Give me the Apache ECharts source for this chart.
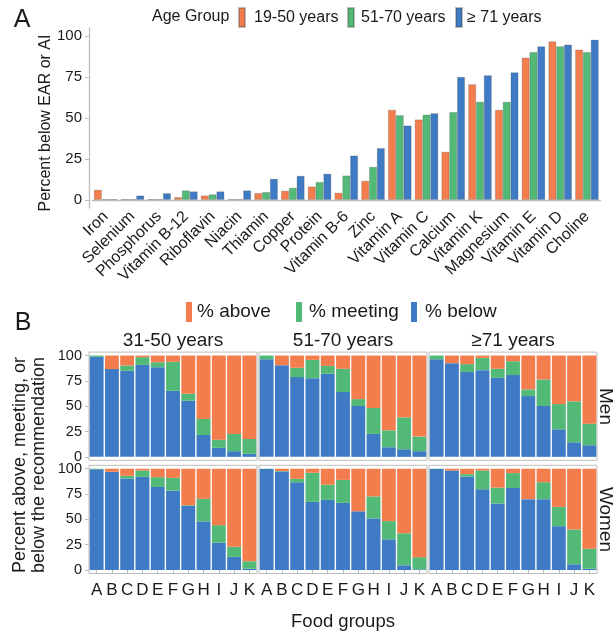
<!DOCTYPE html>
<html><head><meta charset="utf-8">
<script src="https://cdn.jsdelivr.net/npm/echarts@6/dist/echarts.min.js"></script>
<style>html,body{margin:0;padding:0;background:#fff}#c{width:614px;height:633px}</style>
</head><body><div id="c"></div>
<script>
// ---------- Panel A data ----------
const nutrients = ['Iron','Selenium','Phosphorus','Vitamin B-12','Riboflavin','Niacin','Thiamin','Copper','Protein','Vitamin B-6','Zinc','Vitamin A','Vitamin C','Calcium','Vitamin K','Magnesium','Vitamin E','Vitamin D','Choline'];
const ageGroups = ['19-50 years','51-70 years','\u2265 71 years'];
const age19_50 = [6.1,0.3,0.3,1.6,2.6,0.3,4.1,5.5,8.1,4.3,11.6,54.9,49.0,29.3,70.5,54.9,86.8,96.7,91.7];
const age51_70 = [0.3,0.3,0.3,5.7,3.3,0.3,4.7,7.3,10.8,14.8,20.1,51.6,52.0,53.5,59.8,59.8,90.2,93.7,90.2];
const age71plus = [0.3,2.6,4.0,5.1,5.1,5.7,12.8,14.6,15.9,27.0,31.5,45.3,52.8,75.0,76.0,77.8,93.7,94.7,97.7];
const tickValues = [0,25,50,75,100];

// ---------- Panel B data ----------
const foodGroups = ['A','B','C','D','E','F','G','H','I','J','K'];
const facetAges = ['31-50 years','51-70 years','\u226571 years'];
const sexes = ['Men','Women'];
const statusNames = ['% below','% meeting','% above'];

const men31_50_below   = [98.7,86.6,84.9,90.8,88.5,65.2,55.4,21.6,8.9,5.6,3.0];
const men31_50_meeting = [1.3,0,5.3,7.6,4.9,28.6,6.9,15.8,8.1,17.0,14.7];
const men31_50_above   = [0,13.4,9.8,1.6,6.6,6.2,37.7,62.6,83.0,77.4,82.3];

const men51_70_below   = [96.4,90.5,78.7,77.7,82.0,63.9,50.2,22.6,9.5,7.5,5.6];
const men51_70_meeting = [3.6,0,9.2,18.0,7.8,23.0,6.8,25.6,16.7,31.5,14.4];
const men51_70_above   = [0,9.5,12.1,4.3,10.2,13.1,43.0,51.8,73.8,61.0,80.0];

const men71_below   = [96.4,92.5,83.9,85.6,78.0,80.7,60.0,50.2,27.2,14.4,11.5];
const men71_meeting = [3.6,0,7.6,12.1,8.9,13.7,6.6,26.2,24.9,40.4,21.3];
const men71_above   = [0,7.5,8.5,2.3,13.1,5.6,33.4,23.6,47.9,45.2,67.2];

const women31_50_below   = [99.5,97.0,90.3,92.0,82.0,78.3,63.3,48.0,27.0,13.0,1.3];
const women31_50_meeting = [0.5,0,2.7,6.3,9.7,12.7,0.7,22.3,17.3,10.0,7.4];
const women31_50_above   = [0,3.0,7.0,1.7,8.3,9.0,36.0,29.7,55.7,77.0,91.3];

const women51_70_below   = [99.7,97.3,86.7,67.3,69.3,66.3,58.0,51.0,30.3,4.7,0.7];
const women51_70_meeting = [0.3,0.5,3.3,28.7,15.0,22.7,0,21.7,18.0,31.6,12.0];
const women51_70_above   = [0,2.2,10.0,4.0,15.7,11.0,42.0,27.3,51.7,63.7,87.3];

const women71_below   = [99.7,98.3,92.3,79.7,65.7,81.0,70.0,70.0,43.3,5.7,1.3];
const women71_meeting = [0.3,0,2.4,18.6,15.6,14.7,0,16.7,19.0,34.3,19.7];
const women71_above   = [0,1.7,5.3,1.7,18.7,4.3,30.0,13.3,37.7,60.0,79.0];

const facetData = [
  [[men31_50_below,men31_50_meeting,men31_50_above],[men51_70_below,men51_70_meeting,men51_70_above],[men71_below,men71_meeting,men71_above]],
  [[women31_50_below,women31_50_meeting,women31_50_above],[women51_70_below,women51_70_meeting,women51_70_above],[women71_below,women71_meeting,women71_above]]
];

// ---------- styling ----------
const ORANGE = '#F47D4D', GREEN = '#52BA76', BLUE = '#3E7BC4';
const statusColors = [BLUE, GREEN, ORANGE];
const FONT = 'Liberation Sans, Arial, Helvetica, sans-serif';
const TXT = '#1a1a1a';
const AXC = '#bdbdbd';

const grids = [], xAxes = [], yAxes = [], series = [];

// Panel A
grids.push({left: 92.3, right: 13.7, top: 27.8, bottom: 425, containLabel: false});
xAxes.push({
  type: 'category', gridIndex: 0, data: nutrients,
  axisLine: {lineStyle: {color: AXC, width: 1.3}},
  axisTick: {alignWithLabel: true, length: 4, lineStyle: {color: AXC}},
  axisLabel: {rotate: 45, fontSize: 16, color: TXT, margin: 6, interval: 0, fontFamily: FONT}
});
yAxes.push({
  type: 'value', gridIndex: 0, min: -5, max: 105, offset: 3.3,
  splitLine: {show: false},
  axisLine: {show: true, lineStyle: {color: AXC, width: 1.3}},
  axisTick: {show: true, length: 4, customValues: tickValues, lineStyle: {color: AXC}},
  axisLabel: {customValues: tickValues, fontSize: 15, color: TXT, margin: 7, fontFamily: FONT}
});
const aSeries = [age19_50, age51_70, age71plus];
const aColors = [ORANGE, GREEN, BLUE];
aSeries.forEach((d, i) => {
  series.push({
    type: 'bar', name: ageGroups[i], xAxisIndex: 0, yAxisIndex: 0, data: d,
    barWidth: 7.8, barGap: '0%',
    itemStyle: {color: aColors[i], borderColor: 'rgba(70,70,70,0.35)', borderWidth: 0.7}
  });
});

// Panel B facets
const colLeft = [89, 259, 429];
const rowTop = [352.1, 465.3];
sexes.forEach((sex, r) => {
  facetAges.forEach((age, c) => {
    const idx = 1 + r * 3 + c;
    grids.push({left: colLeft[c], width: 168, top: rowTop[r], height: 108.2,
      show: true, borderColor: AXC, borderWidth: 1, backgroundColor: '#fff'});
    const bottomRow = r === 1;
    xAxes.push({
      type: 'category', gridIndex: idx, data: foodGroups,
      axisLine: {show: false},
      axisTick: {show: bottomRow, alignWithLabel: true, length: 4, lineStyle: {color: AXC}},
      axisLabel: {show: bottomRow, interval: 0, fontSize: 17, color: TXT, margin: 8, fontFamily: FONT}
    });
    const firstCol = c === 0;
    yAxes.push({
      type: 'value', gridIndex: idx, min: -3.4, max: 103.4,
      splitLine: {show: false},
      axisLine: {show: false},
      axisTick: {show: firstCol, length: 4, customValues: tickValues, lineStyle: {color: AXC}},
      axisLabel: {show: firstCol, customValues: tickValues, fontSize: 14.5, color: TXT, margin: 7, fontFamily: FONT}
    });
    facetData[r][c].forEach((d, s) => {
      series.push({
        type: 'bar', name: statusNames[s], xAxisIndex: idx, yAxisIndex: idx,
        stack: 'f' + idx, data: d, barCategoryGap: '9%',
        itemStyle: {color: statusColors[s]}
      });
    });
  });
});

function legendItem(name, left, top, w, h, fs, pad) {
  return {data: [name], left: left, top: top, padding: 0, itemGap: 0, itemWidth: w, itemHeight: h,
    icon: 'rect', selectedMode: false,
    textStyle: {fontSize: fs, color: TXT, fontFamily: FONT, padding: [0, 0, 0, pad]}};
}
const legends = [
  legendItem(ageGroups[0], 238, 7, 6, 19, 16, 4),
  legendItem(ageGroups[1], 347, 7, 6, 19, 16, 2),
  legendItem(ageGroups[2], 455, 7, 6, 19, 16, 0),
  legendItem('% above', 186, 302, 6, 20, 19, 0),
  legendItem('% meeting', 296, 302, 6, 20, 19, 2),
  legendItem('% below', 411, 302, 6, 20, 19, 3)
];

function txt(text, x, y, fs, opts) {
  return Object.assign({type: 'text', x: x, y: y,
    style: {text: text, fontSize: fs, fontFamily: FONT, fill: TXT, align: 'center', verticalAlign: 'middle'}}, opts || {});
}
const graphics = [
  txt('A', 22, 20, 25),
  txt('B', 23, 323, 25),
  Object.assign(txt('Age Group', 152, 17, 16), {style: {text: 'Age Group', fontSize: 16, fontFamily: FONT, fill: TXT, align: 'left', verticalAlign: 'middle'}}),
  txt('Percent below EAR or AI', 46, 123, 16, {rotation: Math.PI / 2}),
  txt('Percent above, meeting, or', 20, 465, 18, {rotation: Math.PI / 2}),
  txt('below the recommendation', 39, 465, 18, {rotation: Math.PI / 2}),
  txt(facetAges[0], 173, 341, 19),
  txt(facetAges[1], 343, 341, 19),
  txt(facetAges[2], 513, 341, 19),
  txt(sexes[0], 605, 406.5, 19, {rotation: -Math.PI / 2}),
  txt(sexes[1], 605, 519.5, 19, {rotation: -Math.PI / 2}),
  txt('Food groups', 343, 622, 18.5)
];

const chart = echarts.init(document.getElementById('c'), null, {renderer: 'canvas'});
chart.setOption({
  animation: false,
  backgroundColor: '#fff',
  textStyle: {fontFamily: FONT},
  grid: grids, xAxis: xAxes, yAxis: yAxes, series: series,
  legend: legends,
  graphic: graphics
});
</script>
</body></html>
